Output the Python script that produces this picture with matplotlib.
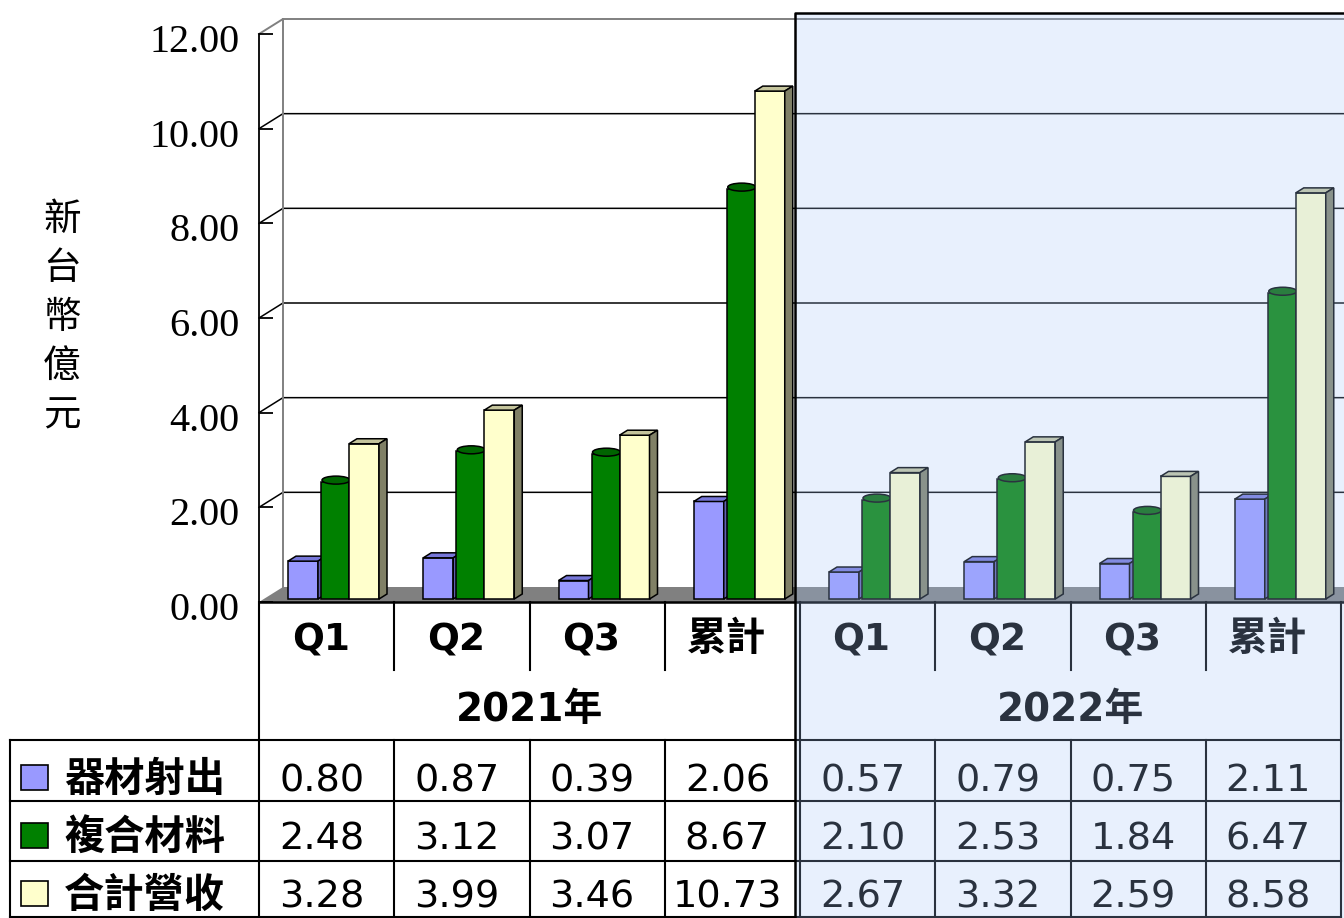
import matplotlib
matplotlib.use("Agg")
import matplotlib.pyplot as plt
from matplotlib.patches import Polygon, Ellipse, Rectangle
from matplotlib.transforms import Affine2D, ScaledTranslation, blended_transform_factory

W, H = 1344, 918

periods = ["Q1", "Q2", "Q3", "累計", "Q1", "Q2", "Q3", "累計"]
years = ["2021年", "2022年"]
series = ["器材射出", "複合材料", "合計營收"]
injection = [0.80, 0.87, 0.39, 2.06, 0.57, 0.79, 0.75, 2.11]
composite = [2.48, 3.12, 3.07, 8.67, 2.10, 2.53, 1.84, 6.47]
revenue = [3.28, 3.99, 3.46, 10.73, 2.67, 3.32, 2.59, 8.58]
y_ticks = [0, 2, 4, 6, 8, 10, 12]
y_label = "新台幣億元"

BLUE, BLUE_TOP, BLUE_SIDE = "#9999FF", "#7777D9", "#6060B0"
GREEN, GREEN_TOP = "#008000", "#006400"
YELLOW, YELLOW_TOP, YELLOW_SIDE = "#FFFFCC", "#C4C49C", "#808066"
FLOOR, WALL = "#808080", "#808080"
LW = 1.1
CJK = ["DejaVu Sans", "Noto Sans CJK TC"]

fig = plt.figure(figsize=(W / 100, H / 100), dpi=100)
fig.patch.set_facecolor("white")
# pixel coordinates measured from the top-left corner
PX = Affine2D().scale(1 / W, -1 / H).translate(0, 1) + fig.transFigure

ax = fig.add_axes([259 / W, 1 - 602 / H, (1341 - 259) / W, (602 - 34) / H])
ax.set_xlim(0, 8)
ax.set_ylim(0, 12)
ax.patch.set_visible(False)
for s in ("top", "right", "bottom"):
    ax.spines[s].set_visible(False)
ax.spines["left"].set_color("black")
ax.spines["left"].set_linewidth(1.3)
ax.spines["left"].set_zorder(3)
ax.set_xticks([])
ax.set_yticks(y_ticks, [f"{v:.2f}" for v in y_ticks])
ax.tick_params(axis="y", direction="in", length=10, width=1.3, pad=14,
               labelsize=29, labelfontfamily="Liberation Serif")
for lab in ax.get_yticklabels():
    lab.set_transform(lab.get_transform() + ScaledTranslation(0, -0.04, fig.dpi_scale_trans))

ux, uy = 1082 / 8, 568 / 12           # px per data unit
DX, DY = 24 / ux, 15 / uy             # wall depth
BASE = 3 / uy
TX, TY = 8 / ux, 5 / uy               # bar depth
XEND = 8.2

# floor and back wall
ax.add_patch(Polygon([(0, 0), (XEND, 0), (XEND, DY), (DX, DY)], closed=True,
                     fc=FLOOR, ec="none", zorder=1.5, clip_on=False))
for v in y_ticks[1:]:
    c = WALL if v == 12 else "black"
    ax.plot([0, DX, XEND], [v, v + DY, v + DY], color=c, lw=1.4 if v == 12 else 1.1,
            zorder=1, clip_on=False)
ax.plot([DX, DX], [DY, 12 + DY], color=WALL, lw=1.4, zorder=1, clip_on=False)
ax.plot([0, XEND], [0, 0], color="black", lw=1.8, zorder=3, clip_on=False)


def box_bars(values, off, width, front, top, side, z):
    xs = [i + off for i in range(len(values))]
    ax.bar(xs, values, width, bottom=BASE, align="edge", color=front,
           edgecolor="black", linewidth=LW, zorder=z, clip_on=False)
    for x0, v in zip(xs, values):
        t = BASE + v
        ax.add_patch(Polygon([(x0, t), (x0 + width, t), (x0 + width + TX, t + TY),
                              (x0 + TX, t + TY)], closed=True, fc=top, ec="black",
                             lw=LW, zorder=z, clip_on=False))
        ax.add_patch(Polygon([(x0 + width, BASE), (x0 + width + TX, BASE + TY),
                              (x0 + width + TX, t + TY), (x0 + width, t)], closed=True,
                             fc=side, ec="black", lw=LW, zorder=z, clip_on=False))


box_bars(injection, 29 / ux, 30 / ux, BLUE, BLUE_TOP, BLUE_SIDE, 4)

gx, gw = 62 / ux, 28 / ux
xs = [i + gx for i in range(len(composite))]
ax.bar(xs, composite, gw, bottom=BASE, align="edge", color=GREEN,
       edgecolor="black", linewidth=LW, zorder=5, clip_on=False)
for x0, v in zip(xs, composite):
    ax.add_patch(Ellipse((x0 + gw / 2 + 1 / ux, BASE + v + 1.5 / uy), gw, 8 / uy,
                         fc=GREEN_TOP, ec="black", lw=LW, zorder=5, clip_on=False))

box_bars(revenue, 90 / ux, 30 / ux, YELLOW, YELLOW_TOP, YELLOW_SIDE, 6)

# y label, one character per line
for k, ch in enumerate(y_label):
    ax.text(62, 219 + k * 49.3, ch, transform=PX, ha="center", va="center",
            fontsize=27, family="Noto Sans CJK TC", fontweight="light", clip_on=False)

# data table
BT = blended_transform_factory(ax.transData, PX)
kw = dict(color="black", lw=1.5, clip_on=False, zorder=3)
for py in (740, 801, 861, 917):
    ax.plot([10, 1341], [py, py], transform=PX, **kw)
ax.plot([10, 10], [740, 917], transform=PX, **kw)
for i in range(9):
    if i in (0, 4, 8):
        ax.plot([i, i], [602, 917], transform=BT, **kw)
    else:
        ax.plot([i, i], [602, 670], transform=BT, **kw)
        ax.plot([i, i], [740, 917], transform=BT, **kw)

for i, lab in enumerate(periods):
    ax.text(i + 0.5 - 6 / ux, 650, lab, transform=BT, ha="center", va="baseline",
            fontsize=27 if lab.isascii() else 28.5, fontweight="bold", family=CJK)
for j, lab in enumerate(years):
    ax.text(4 * j + 2, 721, lab, transform=BT, ha="center", va="baseline",
            fontsize=28, fontweight="bold", family=CJK)

rows = [injection, composite, revenue]
row_colors = [BLUE, GREEN, YELLOW]
baselines = [791, 849, 907]
for r, (vals, name, col, by) in enumerate(zip(rows, series, row_colors, baselines)):
    ax.add_patch(Rectangle((21, by - 26), 27, 25, transform=PX, fc=col, ec="black",
                           lw=1.2, clip_on=False, zorder=3))
    ax.text(64, by, name, transform=PX, ha="left", va="baseline", fontsize=29,
            fontweight="bold", family="Noto Sans CJK TC")
    for i, v in enumerate(vals):
        ax.text(i + 0.5 - 5 / ux, by, f"{v:.2f}", transform=BT, ha="center",
                va="baseline", fontsize=27.5, family="DejaVu Sans")

# highlighted 2022 block
fig.add_artist(Rectangle((795, 13), 700, 1000, transform=PX,
                         fc=(165 / 255, 200 / 255, 251 / 255, 0.255), ec="none", zorder=20))
fig.add_artist(plt.Line2D([795, 795, 1400], [1000, 13, 13], transform=PX,
                          color="black", lw=1.8, zorder=21))

fig.savefig("out.png", dpi=100, facecolor="white")
